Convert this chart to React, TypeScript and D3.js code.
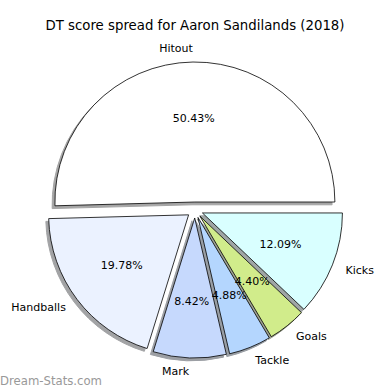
import { useMemo } from 'react'
import * as d3 from 'd3'

const categories = ['Hitout', 'Handballs', 'Mark', 'Tackle', 'Goals', 'Kicks']
const shares = [50.43, 19.78, 8.42, 4.88, 4.4, 12.09]
const colors = ['#ffffff', '#ebf2ff', '#c6d9fd', '#b4d6fe', '#d1ec8b', '#d9ffff']

const title = 'DT score spread for Aaron Sandilands (2018)'
const watermark = 'Dream-Stats.com'

const W = 390
const H = 390

export default function App() {
  const cx = 195
  const cy = 210
  const r = 140
  const explode = 8
  const shadowOff = 0.02 * r

  const arcs = useMemo(() => {
    // matplotlib style: start at 3 o'clock, go counterclockwise
    const pie = d3.pie<number>()
      .sort(null)
      .value(d => d)
      .startAngle(Math.PI / 2)
      .endAngle(Math.PI / 2 - 2 * Math.PI)
    return pie(shares)
  }, [])

  const arc = d3.arc<d3.PieArcDatum<number>>().innerRadius(0).outerRadius(r)

  const slices = arcs.map((a, i) => {
    const mid = (a.startAngle + a.endAngle) / 2
    const dx = Math.sin(mid)
    const dy = -Math.cos(mid)
    const ox = cx + explode * dx
    const oy = cy + explode * dy
    const rgb = d3.rgb(colors[i])
    const shadow = d3.rgb(rgb.r * 0.3, rgb.g * 0.3, rgb.b * 0.3).formatHex()
    return {
      path: arc(a) ?? '',
      ox,
      oy,
      lx: ox + 1.1 * r * dx,
      ly: oy + 1.1 * r * dy,
      px: ox + 0.6 * r * dx,
      py: oy + 0.6 * r * dy,
      anchor: dx > 0 ? 'start' : 'end',
      shadow,
      fill: colors[i],
      label: categories[i],
      pct: `${shares[i].toFixed(2)}%`,
    }
  })

  return (
    <svg
      width={W}
      height={H}
      style={{ position: 'fixed', left: 0, top: 0, background: '#fff' }}
      fontFamily="DejaVu Sans"
    >
      <text x={W / 2} y={25} textAnchor="middle" dominantBaseline="central" fontSize={13.3} fill="#000">
        {title}
      </text>

      {slices.map((s, i) => (
        <path
          key={`sh-${i}`}
          d={s.path}
          transform={`translate(${s.ox - shadowOff},${s.oy + shadowOff})`}
          fill={s.shadow}
          stroke={s.shadow}
          strokeWidth={1}
          opacity={0.5}
        />
      ))}

      {slices.map((s, i) => (
        <path
          key={`w-${i}`}
          d={s.path}
          transform={`translate(${s.ox},${s.oy})`}
          fill={s.fill}
          stroke="#000"
          strokeWidth={0.8}
          strokeLinejoin="round"
        />
      ))}

      {slices.map((s, i) => (
        <text
          key={`l-${i}`}
          x={s.lx}
          y={s.ly}
          textAnchor={s.anchor}
          dominantBaseline="central"
          fontSize={11}
          fill="#000"
        >
          {s.label}
        </text>
      ))}

      {slices.map((s, i) => (
        <text
          key={`p-${i}`}
          x={s.px}
          y={s.py}
          textAnchor="middle"
          dominantBaseline="central"
          fontSize={11}
          fill="#000"
        >
          {s.pct}
        </text>
      ))}

      <text x={0} y={385} fontSize={12} fill="#999" textLength={102} lengthAdjust="spacingAndGlyphs">
        {watermark}
      </text>
    </svg>
  )
}
